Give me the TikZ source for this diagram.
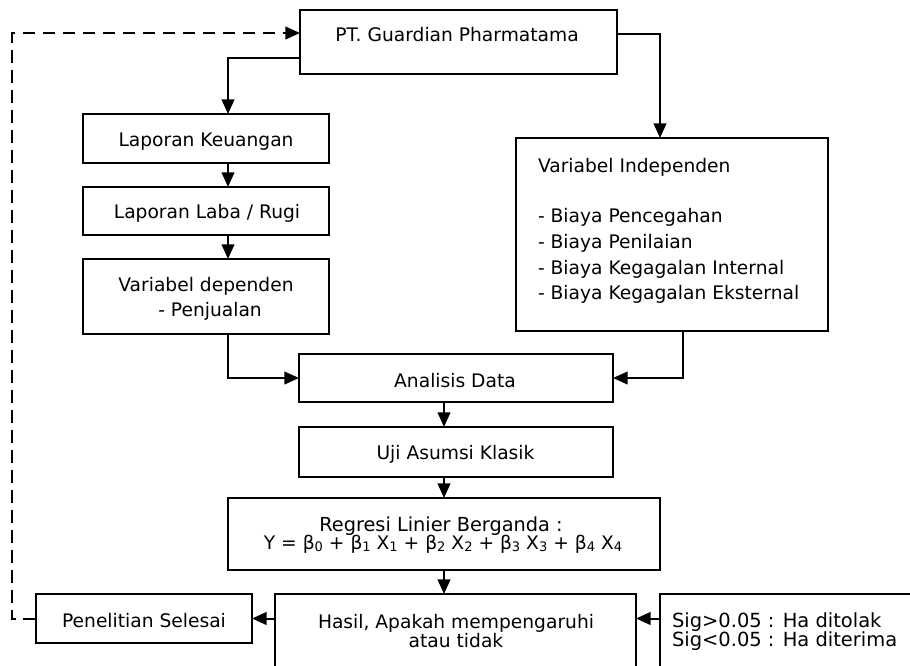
\documentclass[tikz,border=0pt]{standalone}
\usepackage{fontspec}
\setmainfont{DejaVu Sans}
\usetikzlibrary{arrows.meta}
\newcommand\subdig[1]{\raisebox{-2pt}{\fontsize{9.8}{10}\selectfont #1}}
\begin{document}
\begin{tikzpicture}[x=0.75pt,y=-0.75pt,line width=1.5pt,
  box/.style={draw,rectangle,line width=1.5pt,inner sep=0pt,outer sep=0pt},
  txt/.style={font=\fontsize{14}{16}\selectfont,inner sep=0pt,anchor=base},
  ltxt/.style={txt,anchor=base west},
  arr/.style={-{Triangle[length=11pt,width=9.5pt]}},
  dsh/.style={dash pattern=on 9.5pt off 5.5pt}]
\useasboundingbox (0,0) rectangle (910,665);
\fill[white] (0,0) rectangle (910,665);
\clip (0,0) rectangle (910,665);

% boxes
\node[box,minimum width=317*0.75pt,minimum height=64*0.75pt] (pt) at (458.5,42) {};
\node[box,minimum width=246*0.75pt,minimum height=49*0.75pt] (lk) at (206,138.5) {};
\node[box,minimum width=246*0.75pt,minimum height=48*0.75pt] (llr) at (206,211) {};
\node[box,minimum width=246*0.75pt,minimum height=75*0.75pt] (vd) at (206,296.5) {};
\node[box,minimum width=312*0.75pt,minimum height=193*0.75pt] (vi) at (672,234.5) {};
\node[box,minimum width=314*0.75pt,minimum height=48*0.75pt] (ad) at (456,378) {};
\node[box,minimum width=314*0.75pt,minimum height=50*0.75pt] (uak) at (456,452) {};
\node[box,minimum width=432*0.75pt,minimum height=72*0.75pt] (reg) at (444,534) {};
\node[box,minimum width=361*0.75pt,minimum height=126*0.75pt] (hasil) at (455.5,657) {};
\node[box,minimum width=216*0.75pt,minimum height=49*0.75pt] (ps) at (144,618.5) {};
\node[box,minimum width=280*0.75pt,minimum height=126*0.75pt] (sig) at (800,657) {};

% texts
\node[txt] (tpt) at (457,41) {PT. Guardian Pharmatama};
\node[txt] (tlk) at (206,146) {Laporan Keuangan};
\node[txt] (tllr) at (207,218) {Laporan Laba / Rugi};
\node[txt] (tvd1) at (206,291) {Variabel dependen};
\node[txt] (tvd2) at (210,316) {- Penjualan};
\node[ltxt] (tvi0) at (537,172) {Variabel Independen};
\node[ltxt] (tvi1) at (537,222) {- Biaya Pencegahan};
\node[ltxt] (tvi2) at (537,248) {- Biaya Penilaian};
\node[ltxt] (tvi3) at (537,274) {- Biaya Kegagalan Internal};
\node[ltxt] (tvi4) at (537,299) {- Biaya Kegagalan Eksternal};
\node[txt] (tad) at (455,387) {Analisis Data};
\node[txt] (tuak) at (455.5,459) {Uji Asumsi Klasik};
\node[txt,font=\fontsize{14.5}{16}\selectfont] (treg1) at (441,531) {Regresi Linier Berganda :};
\node[txt] (treg2) at (443,549) {Y = β\subdig{0} + β\subdig{1} X\subdig{1} + β\subdig{2} X\subdig{2} + β\subdig{3} X\subdig{3} + β\subdig{4} X\subdig{4}};
\node[txt] (th1) at (456,628) {Hasil, Apakah mempengaruhi};
\node[txt] (th2) at (456,647) {atau tidak};
\node[txt] (tps) at (144,627) {Penelitian Selesai};
\node[ltxt,font=\fontsize{14.6}{16}\selectfont] (ts1) at (671,627) {Sig>0.05 : Ha ditolak};
\node[ltxt,font=\fontsize{14.6}{16}\selectfont] (ts2) at (671,646) {Sig<0.05 : Ha diterima};

% connectors
\draw[arr] ([yshift=-12pt]pt.west) -| ([xshift=16.5pt]lk.north);
\draw[arr] ([xshift=16.5pt]lk.south) -- ([xshift=16.5pt]llr.north);
\draw[arr] ([xshift=16.5pt]llr.south) -- ([xshift=16.5pt]vd.north);
\draw[arr] ([xshift=16.5pt]vd.south) |- (ad.west);
\draw[arr] ([yshift=6pt]pt.east) -| ([xshift=-9pt]vi.north);
\draw[arr] ([xshift=8.25pt]vi.south) |- (ad.east);
\draw[arr] ([xshift=-9pt]ad.south) -- ([xshift=-9pt]uak.north);
\draw[arr] ([xshift=-9pt]uak.south) -- (reg.north);
\draw[arr] (reg.south) -- (reg.south |- hasil.north);
\draw[arr] (hasil.west |- ps.east) -- (ps.east);
\draw[arr] (sig.west |- ps.east) -- (hasil.east |- ps.east);
\coordinate (ul) at (12,33);
\draw[dsh,arr] (ps.west) -| (ul) -- (pt.west |- ul);
\end{tikzpicture}
\end{document}
